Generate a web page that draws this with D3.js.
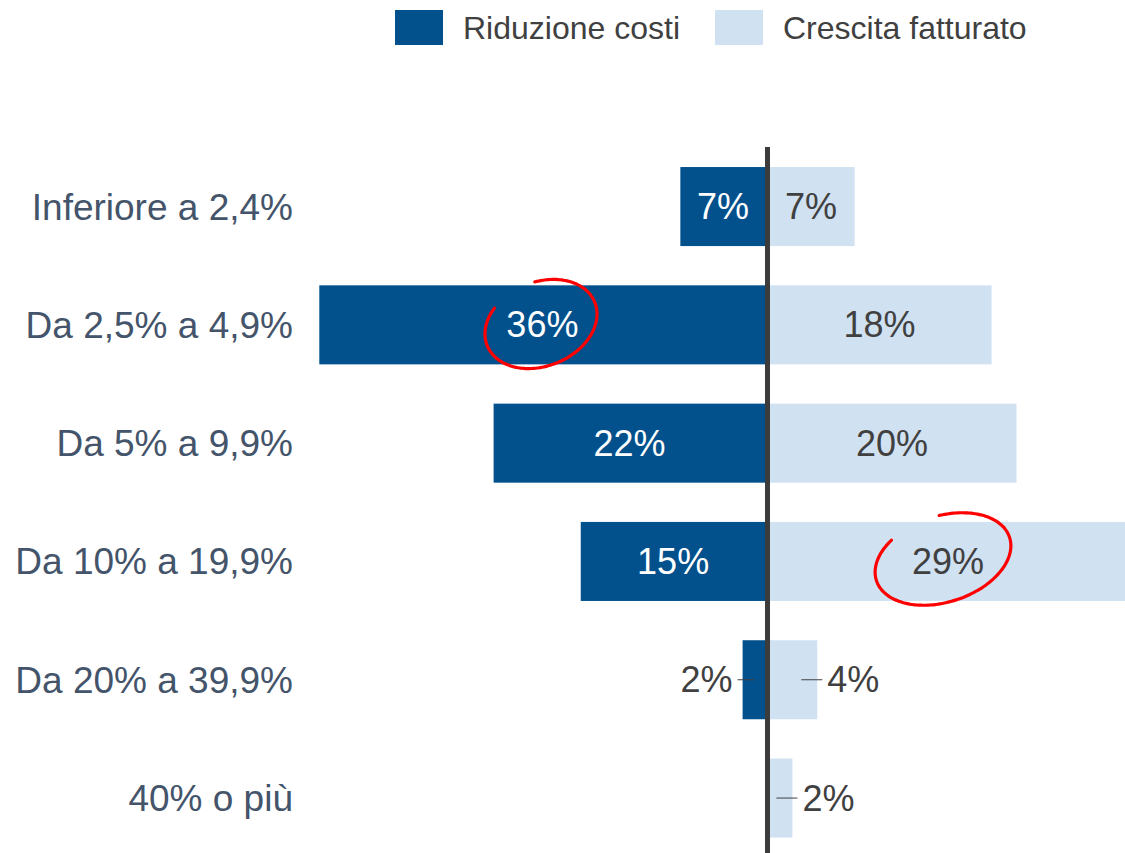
<!DOCTYPE html>
<html>
<head>
<meta charset="utf-8">
<script src="https://cdn.jsdelivr.net/npm/d3@7"></script>
<style>
  body { margin: 0; background: #fff; }
  svg { display: block; font-family: Arial, "Liberation Sans", sans-serif; }
</style>
</head>
<body>
<div id="chart"></div>
<script>
// data
var categories = ["Inferiore a 2,4%", "Da 2,5% a 4,9%", "Da 5% a 9,9%", "Da 10% a 19,9%", "Da 20% a 39,9%", "40% o più"];
var riduzioneCosti = [7, 36, 22, 15, 2, null];
var crescitaFatturato = [7, 18, 20, 29, 4, 2];
var seriesNames = ["Riduzione costi", "Crescita fatturato"];
var highlighted = [[1, "left"], [3, "right"]]; // circled labels

var width = 1125;
var height = 853;
var centerX = 767.5;
var pxPerPct = 12.45;
var darkBlue = '#02508c';
var lightBlue = '#d0e1f2';
var textGray = '#404040';
var catColor = '#44546a';

var svg = d3.select('#chart').append('svg')
    .attr('width', width)
    .attr('height', height);

var yScale = d3.scaleBand()
    .domain(categories)
    .range([147.4, 857.2])
    .paddingInner(0.332)
    .paddingOuter(0.166);

var xLeft = d3.scaleLinear()
    .domain([0, 40])
    .range([centerX, centerX - 40 * pxPerPct]);

var xRight = d3.scaleLinear()
    .domain([0, 40])
    .range([centerX, centerX + 40 * pxPerPct]);

var rows = categories.map(function(c, i) {
    return {cat: c, left: riduzioneCosti[i], right: crescitaFatturato[i]};
});

// bars
svg.selectAll('rect.left-bar')
    .data(rows.filter(function(d) { return d.left != null; }))
    .enter()
    .append('rect')
    .attr('class', 'left-bar')
    .attr('x', function(d) { return xLeft(d.left); })
    .attr('y', function(d) { return yScale(d.cat); })
    .attr('width', function(d) { return centerX - xLeft(d.left); })
    .attr('height', yScale.bandwidth())
    .attr('fill', darkBlue);

svg.selectAll('rect.right-bar')
    .data(rows.filter(function(d) { return d.right != null; }))
    .enter()
    .append('rect')
    .attr('class', 'right-bar')
    .attr('x', centerX)
    .attr('y', function(d) { return yScale(d.cat); })
    .attr('width', function(d) { return xRight(d.right) - centerX; })
    .attr('height', yScale.bandwidth())
    .attr('fill', lightBlue);

// category labels
var yAxis = d3.axisLeft(yScale).tickSize(0).tickPadding(0);
var yAxisG = svg.append('g')
    .attr('transform', 'translate(293,0)')
    .call(yAxis);
yAxisG.select('.domain').remove();
yAxisG.selectAll('text')
    .attr('fill', catColor)
    .style('font-size', '37px')
    .style('font-family', 'Arial, "Liberation Sans", sans-serif')
    .attr('dy', '0.35em');

var smallLimit = 5;

// value labels
rows.forEach(function(d) {
    var cy = yScale(d.cat) + yScale.bandwidth() / 2;
    if (d.left != null) {
        var xe = xLeft(d.left);
        if (d.left >= smallLimit) {
            svg.append('text')
                .attr('x', (xe + centerX) / 2 - 1)
                .attr('y', cy)
                .attr('dy', '0.35em')
                .attr('text-anchor', 'middle')
                .attr('fill', '#fff')
                .style('font-size', '36px')
                .text(d.left + '%');
        } else {
            svg.append('line')
                .attr('x1', xe - 5).attr('x2', xe + 12)
                .attr('y1', cy).attr('y2', cy)
                .attr('stroke', textGray).attr('stroke-width', 1);
            svg.append('text')
                .attr('x', xe - 10)
                .attr('y', cy)
                .attr('dy', '0.35em')
                .attr('text-anchor', 'end')
                .attr('fill', textGray)
                .style('font-size', '36px')
                .text(d.left + '%');
        }
    }
    if (d.right != null) {
        var xr = xRight(d.right);
        if (d.right >= smallLimit) {
            svg.append('text')
                .attr('x', (xr + centerX) / 2)
                .attr('y', cy)
                .attr('dy', '0.35em')
                .attr('text-anchor', 'middle')
                .attr('fill', textGray)
                .style('font-size', '36px')
                .text(d.right + '%');
        } else {
            svg.append('line')
                .attr('x1', xr - 16).attr('x2', xr + 5)
                .attr('y1', cy).attr('y2', cy)
                .attr('stroke', textGray).attr('stroke-width', 1);
            svg.append('text')
                .attr('x', xr + 10)
                .attr('y', cy)
                .attr('dy', '0.35em')
                .attr('text-anchor', 'start')
                .attr('fill', textGray)
                .style('font-size', '36px')
                .text(d.right + '%');
        }
    }
});

// center axis line
svg.append('line')
    .attr('x1', centerX).attr('x2', centerX)
    .attr('y1', 147).attr('y2', height)
    .attr('stroke', '#3c3c3c')
    .attr('stroke-width', 5);

// legend
var legend = svg.append('g').attr('class', 'legend');
var legendX = [395, 715];
var legendColors = [darkBlue, lightBlue];
seriesNames.forEach(function(name, i) {
    legend.append('rect')
        .attr('x', legendX[i]).attr('y', 10)
        .attr('width', 48).attr('height', 35)
        .attr('fill', legendColors[i]);
    legend.append('text')
        .attr('x', legendX[i] + 68)
        .attr('y', 28)
        .attr('dy', '0.35em')
        .attr('fill', textGray)
        .style('font-size', '32px')
        .text(name);
});

// hand drawn red circles around highlighted labels
function openEllipse(cx, cy, rx, ry, rot, a0, a1) {
    var pts = [];
    var r = rot * Math.PI / 180;
    for (var a = a0; a <= a1; a += 2) {
        var t = a * Math.PI / 180;
        var ex = rx * Math.cos(t), ey = ry * Math.sin(t);
        pts.push([cx + ex * Math.cos(r) - ey * Math.sin(r), cy + ex * Math.sin(r) + ey * Math.cos(r)]);
    }
    return d3.line().curve(d3.curveBasis)(pts);
}
var circleShapes = {
    left: [541, 324, 58, 42, -22, -80, 230],
    right: [943, 559, 70, 43, -18, -82, 232]
};
highlighted.forEach(function(h) {
    var s = circleShapes[h[1]];
    svg.append('path')
        .attr('d', openEllipse(s[0], s[1], s[2], s[3], s[4], s[5], s[6]))
        .attr('fill', 'none')
        .attr('stroke', '#f00')
        .attr('stroke-width', 3.2)
        .attr('stroke-linecap', 'round');
});
</script>
</body>
</html>
